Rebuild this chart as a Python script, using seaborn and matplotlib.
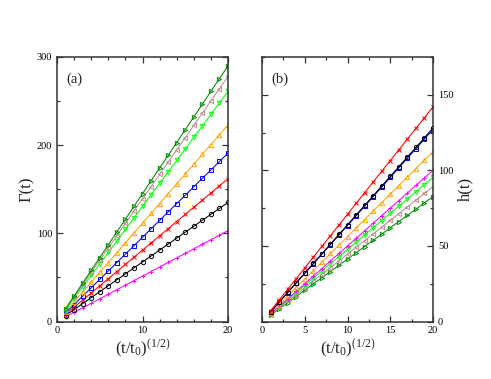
import matplotlib
matplotlib.use("Agg")
import matplotlib.pyplot as plt
import seaborn as sns
import pandas as pd
from matplotlib.ticker import MultipleLocator

sns.set_style("white")
plt.rcParams['font.family'] = ['Liberation Serif', 'DejaVu Serif']
plt.rcParams['mathtext.fontset'] = 'custom'
plt.rcParams['mathtext.rm'] = 'Liberation Serif'
plt.rcParams['mathtext.it'] = 'Liberation Serif:italic'

x = list(range(1, 21))

# Panel (a): Gamma(t)
a_dkgreen = [14.5, 29.0, 43.5, 58.0, 72.5, 87.0, 101.5, 116.0, 130.5, 145.0, 159.5, 174.0, 188.5, 203.0, 217.5, 232.0, 246.5, 261.0, 275.5, 290.0]
a_brown = [13.9, 27.8, 41.7, 55.6, 69.5, 83.4, 97.3, 111.2, 125.1, 139.0, 152.9, 166.8, 180.7, 194.6, 208.5, 222.4, 236.3, 250.2, 264.1, 278.0]
a_green = [13.1, 26.1, 39.2, 52.2, 65.3, 78.3, 91.4, 104.4, 117.5, 130.5, 143.6, 156.6, 169.7, 182.7, 195.8, 208.8, 221.9, 234.9, 248.0, 261.0]
a_orange = [11.2, 22.3, 33.5, 44.6, 55.8, 66.9, 78.1, 89.2, 100.4, 111.5, 122.7, 133.8, 145.0, 156.1, 167.3, 178.4, 189.6, 200.7, 211.9, 223.0]
a_blue = [9.6, 19.1, 28.7, 38.2, 47.8, 57.3, 66.9, 76.4, 86.0, 95.5, 105.1, 114.6, 124.2, 133.7, 143.3, 152.8, 162.4, 171.9, 181.5, 191.0]
a_red = [8.1, 16.2, 24.3, 32.4, 40.5, 48.6, 56.7, 64.8, 72.9, 81.0, 89.1, 97.2, 105.3, 113.4, 121.5, 129.6, 137.7, 145.8, 153.9, 162.0]
a_black = [6.8, 13.5, 20.3, 27.0, 33.8, 40.5, 47.3, 54.0, 60.8, 67.5, 74.3, 81.0, 87.8, 94.5, 101.3, 108.0, 114.8, 121.5, 128.3, 135.0]
a_magenta = [5.2, 10.3, 15.5, 20.6, 25.8, 30.9, 36.1, 41.2, 46.4, 51.5, 56.7, 61.8, 67.0, 72.1, 77.3, 82.4, 87.6, 92.7, 98.0, 103.0]

# Panel (b): h(t)
b_red = [7.1, 14.2, 21.3, 28.4, 35.5, 42.6, 49.7, 56.8, 63.9, 71.0, 78.1, 85.2, 92.3, 99.4, 106.5, 113.6, 120.7, 127.8, 134.9, 142.0]
b_black = [6.4, 12.8, 19.2, 25.6, 32.0, 38.4, 44.8, 51.2, 57.6, 64.0, 70.4, 76.8, 83.2, 89.6, 96.0, 102.4, 108.8, 115.2, 121.6, 128.0]
b_blue = [6.35, 12.7, 19.1, 25.4, 31.8, 38.1, 44.5, 50.8, 57.2, 63.5, 69.9, 76.2, 82.6, 88.9, 95.3, 101.6, 108.0, 114.3, 120.7, 127.0]
b_orange = [5.6, 11.2, 16.9, 22.5, 28.1, 33.7, 39.3, 45.0, 50.6, 56.2, 61.8, 67.4, 73.1, 78.7, 84.3, 89.9, 95.5, 101.2, 106.8, 112.4]
b_magenta = [5.0, 10.0, 15.0, 20.0, 25.0, 30.0, 35.0, 40.0, 45.0, 50.0, 55.0, 60.0, 65.0, 70.0, 75.0, 80.0, 85.0, 90.0, 95.0, 100.0]
b_green = [4.8, 9.5, 14.3, 19.1, 23.9, 28.6, 33.4, 38.2, 42.9, 47.7, 52.5, 57.2, 62.0, 66.8, 71.6, 76.3, 81.1, 85.9, 90.6, 95.4]
b_brown = [4.5, 8.9, 13.4, 17.8, 22.3, 26.8, 31.2, 35.7, 40.1, 44.6, 49.1, 53.5, 58.0, 62.4, 66.9, 71.4, 75.8, 80.3, 84.7, 89.2]
b_dkgreen = [4.1, 8.3, 12.4, 16.5, 20.7, 24.8, 28.9, 33.0, 37.2, 41.3, 45.4, 49.6, 53.7, 57.8, 62.0, 66.1, 70.2, 74.3, 78.5, 82.6]

styles = {
    'dkgreen': ('#008b00', '>'),
    'brown': ('#bc8f8f', '<'),
    'green': ('#00ff00', 'v'),
    'orange': ('#ffa500', '^'),
    'blue': ('#0000ff', 's'),
    'red': ('#ff0000', 'x'),
    'black': ('#000000', 'o'),
    'magenta': ('#ff00ff', '+'),
}

panel_a = {'magenta': a_magenta, 'black': a_black, 'red': a_red, 'blue': a_blue,
           'orange': a_orange, 'green': a_green, 'brown': a_brown, 'dkgreen': a_dkgreen}
panel_b = {'dkgreen': b_dkgreen, 'brown': b_brown, 'green': b_green, 'magenta': b_magenta,
           'orange': b_orange, 'blue': b_blue, 'black': b_black, 'red': b_red}

W, H = 491, 379
fig = plt.figure(figsize=(W / 100, H / 100), dpi=100)
axa = fig.add_axes([57 / W, 1 - 321.5 / H, 171 / W, 264.5 / H])
axb = fig.add_axes([262 / W, 1 - 321.5 / H, 171 / W, 264.5 / H])


def draw(ax, data):
    for name, vals in data.items():
        c, m = styles[name]
        df = pd.DataFrame({'x': x, 'y': vals})
        thin = m in ('x', '+')
        sns.lineplot(data=df, x='x', y='y', ax=ax, color=c, marker=m,
                     markersize=3.0 if thin else 3.1,
                     markeredgecolor=c,
                     markerfacecolor=c if thin else (1, 1, 1, 0),
                     markeredgewidth=0.7, linewidth=0.75)
    ax.set_xlabel('')
    ax.set_ylabel('')


draw(axa, panel_a)
draw(axb, panel_b)

for ax in (axa, axb):
    for s in ax.spines.values():
        s.set_color('#333333')
        s.set_linewidth(1.1)
    ax.tick_params(which='both', direction='in', top=True, bottom=True, left=True, right=True,
                   colors='#333333', labelcolor='black', labelsize=7.5, width=0.9)
    ax.tick_params(which='major', length=4.5)
    ax.tick_params(which='minor', length=2.5)
    ax.set_xlim(0, 20)
    ax.xaxis.set_label_coords(0.5, -0.062)

axa.set_ylim(0, 300)
axa.xaxis.set_major_locator(MultipleLocator(10))
axa.xaxis.set_minor_locator(MultipleLocator(2))
axa.yaxis.set_major_locator(MultipleLocator(100))
axa.yaxis.set_minor_locator(MultipleLocator(50))
axa.set_ylabel('Γ(t)', fontsize=12)
axa.yaxis.set_label_coords(-0.13, 0.5)
axa.set_xlabel('(t/t$_\\mathrm{0}$)$^{\\mathrm{(1/2)}}$', fontsize=12)
axa.text(0.055, 0.915, '(a)', transform=axa.transAxes, fontsize=10.5, va='center', ha='left')

axb.set_ylim(0, 175)
axb.xaxis.set_major_locator(MultipleLocator(5))
axb.xaxis.set_minor_locator(MultipleLocator(2.5))
axb.yaxis.set_major_locator(MultipleLocator(50))
axb.yaxis.set_minor_locator(MultipleLocator(25))
axb.tick_params(which='both', labelleft=False, labelright=True)
axb.yaxis.set_label_position('right')
axb.set_ylabel('h(t)', fontsize=12)
axb.yaxis.set_label_coords(1.14, 0.5)
axb.set_xlabel('(t/t$_\\mathrm{0}$)$^{\\mathrm{(1/2)}}$', fontsize=12)
axb.text(0.055, 0.915, '(b)', transform=axb.transAxes, fontsize=10.5, va='center', ha='left')

fig.savefig('out.png', dpi=100)
